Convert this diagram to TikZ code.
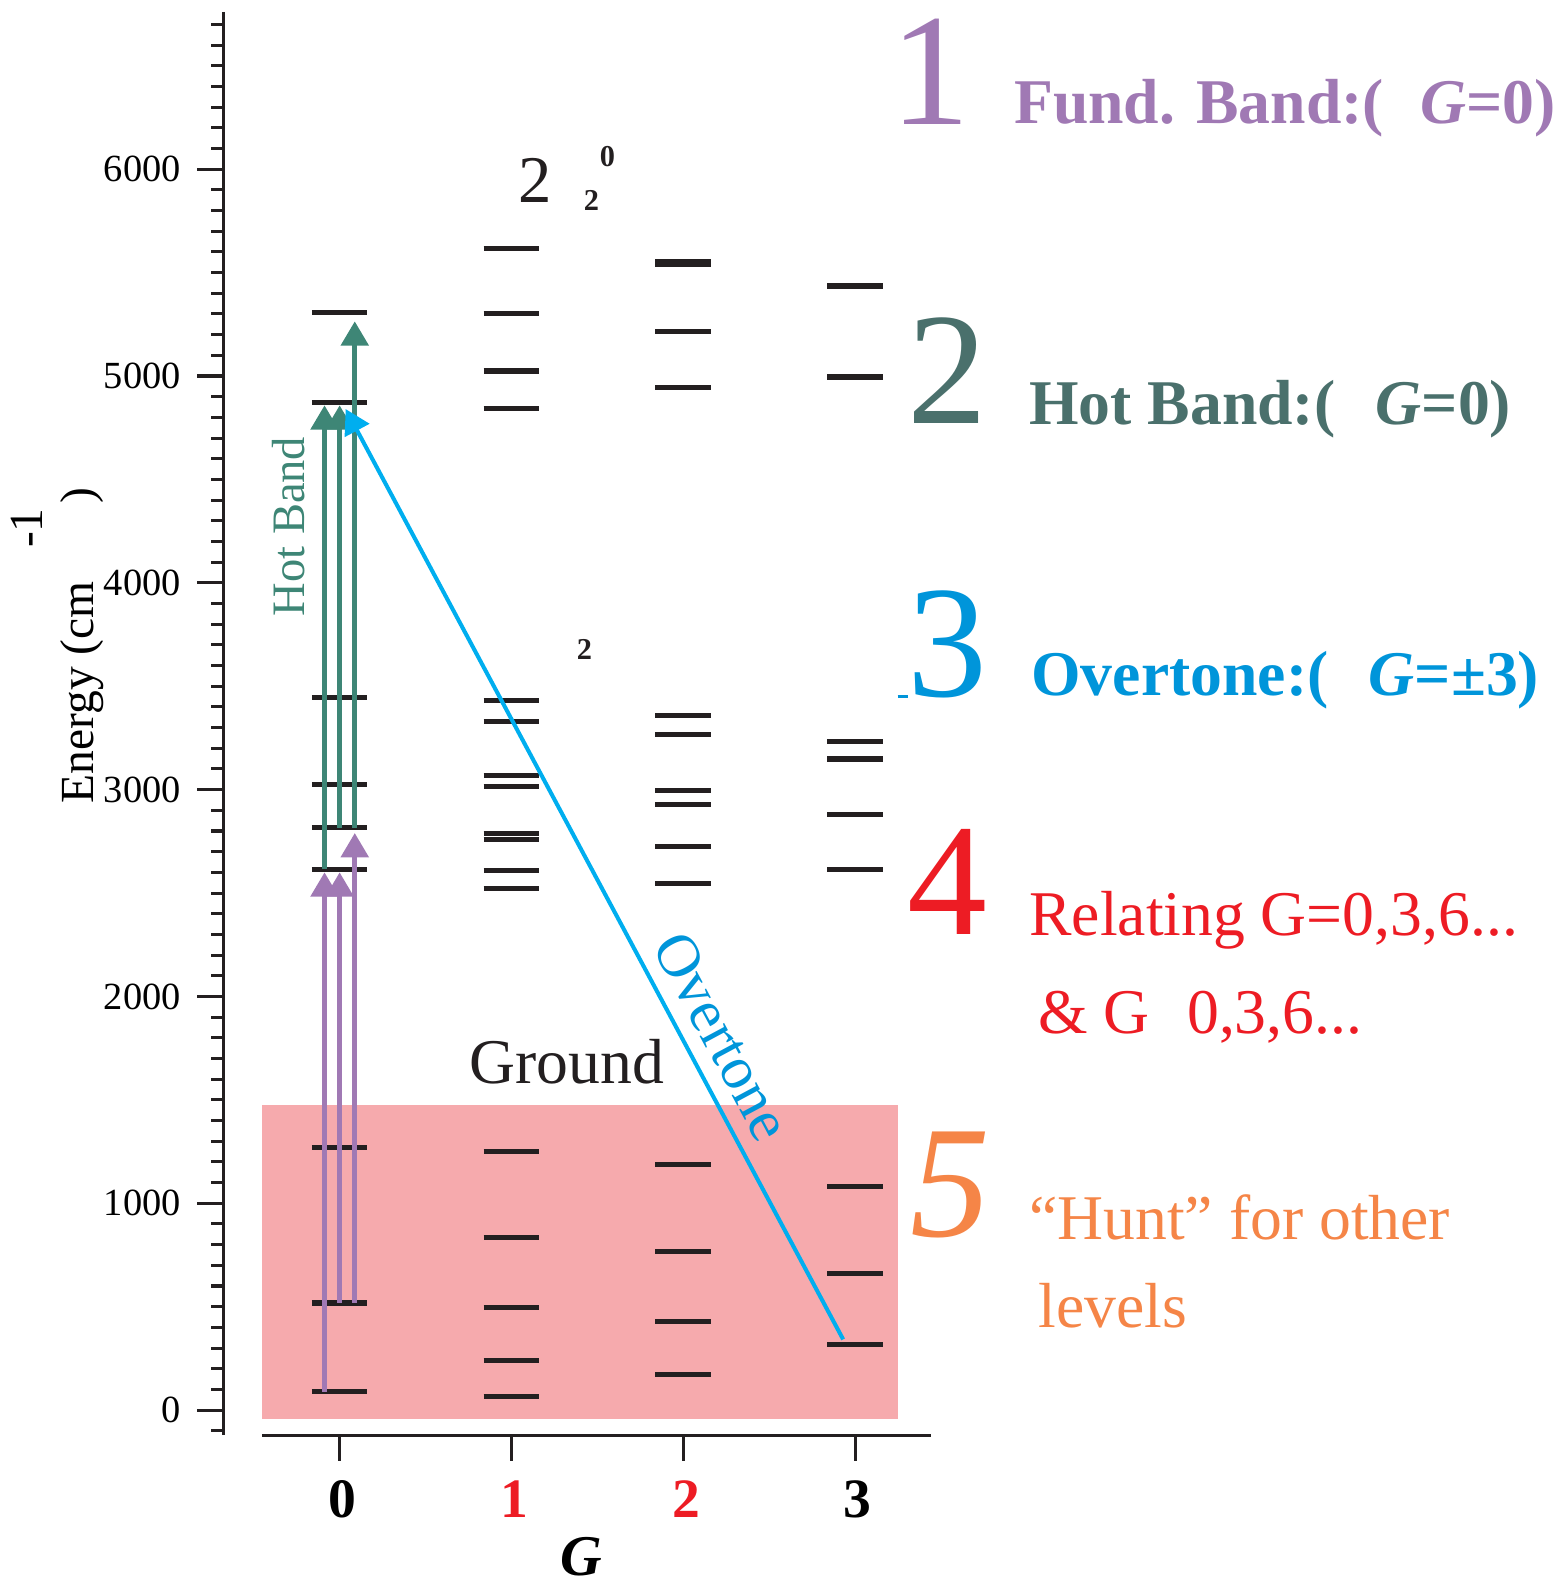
\documentclass[tikz,border=0pt]{standalone}
\usepackage{fontspec}
\setmainfont{Liberation Serif}
\usetikzlibrary{arrows.meta}
\definecolor{levelblack}{RGB}{35,31,32}
\definecolor{fundpurple}{RGB}{160,121,180}
\definecolor{hotteal}{RGB}{62,134,118}
\definecolor{hottext}{RGB}{74,112,108}
\definecolor{overblue}{RGB}{0,174,239}
\definecolor{overtext}{RGB}{0,149,218}
\definecolor{relred}{RGB}{237,28,36}
\definecolor{huntorange}{RGB}{245,133,71}
\definecolor{groundpink}{RGB}{246,170,173}

\begin{document}
\begin{tikzpicture}[x=170pt,y=0.2046pt,
    level/.style={draw=levelblack,line width=5pt},
    axisline/.style={draw=levelblack,line width=3.5pt},
    uparrow/.style={line width=4.5pt,-{Triangle[length=24pt,width=27pt]}},
    bignum/.style={font=\fontsize{158}{158}\selectfont,inner sep=0pt},
    sidetext/.style={font=\fontsize{63}{63}\selectfont,anchor=base west,inner sep=0pt}]
	\useasboundingbox (-1.9765,-845.6) rectangle (7.141,6818);
	% region searched for other levels
	\fill[groundpink] (-0.453,-44) rectangle (3.247,1476);
	% axes
	\draw[axisline] (-0.676,6760) -- (-0.676,-120);
	\draw[axisline] (-0.453,-122) -- (3.44,-122);
	\foreach \e in {-100,0,...,6700} \draw[axisline,line width=3pt] (-0.676,\e) -- (-0.7466,\e);
	\foreach \e in {0,1000,...,6000} {
		\draw[axisline,line width=3pt] (-0.676,\e) -- (-0.829,\e);
		\node[anchor=east,inner sep=0pt,font=\fontsize{38}{38}\selectfont] (tick\e) at (-0.9235,\e) {\e};
	}
	\foreach \g/\c in {0/black,1/relred,2/relred,3/black} {
		\draw[axisline,line width=3pt] (\g,-122) -- (\g,-244);
		\node[font=\fontsize{55}{55}\selectfont\bfseries,text=\c] (gnum\g) at ({\g+0.015},-430) {\g};
	}
	\node[font=\fontsize{57}{57}\selectfont\bfseries\itshape] (gaxis) at (1.406,-709) {G};
	\node[rotate=90,anchor=base west,inner sep=0pt,font=\fontsize{47}{47}\selectfont] (elabel) at (-1.435,2933) {Energy (cm\hspace{33pt}\raisebox{50pt}{-1}\hspace{5pt})};
	% energy levels for each G
	\foreach \g/\elist in {0/{5308,4873,3446,3025,2815,2615,1271,518,88},
		1/{5616,5303,5024,4844,3431,3328,3069,3016,2786,2760,2610,2522,1251,836,494,240,64},
		2/{5555,5540,5215,4946,3358,3265,2996,2928,2727,2546,1188,767,430,171},
		3/{5435,4995,3231,3148,2879,2615,1080,660,318}} {
		\foreach \e in \elist \draw[level] ({\g-0.162},\e) -- ({\g+0.162},\e);
	}
	% transitions
	\coordinate (h1a) at (-0.088,2615); \coordinate (h1b) at (-0.088,4858);
	\coordinate (h2a) at (0,2815); \coordinate (h2b) at (0,4858);
	\coordinate (h3a) at (0.088,2815); \coordinate (h3b) at (0.088,5264);
	\draw[uparrow,hotteal] (h1a) -- (h1b);
	\draw[uparrow,hotteal] (h2a) -- (h2b);
	\draw[uparrow,hotteal] (h3a) -- (h3b);
	\coordinate (f1a) at (-0.088,88); \coordinate (f1b) at (-0.088,2600);
	\coordinate (f2a) at (0,518); \coordinate (f2b) at (0,2600);
	\coordinate (f3a) at (0.088,518); \coordinate (f3b) at (0.088,2790);
	\draw[uparrow,fundpurple] (f1a) -- (f1b);
	\draw[uparrow,fundpurple] (f2a) -- (f2b);
	\draw[uparrow,fundpurple] (f3a) -- (f3b);
	\coordinate (o1a) at (2.93,342); \coordinate (o1b) at (0.035,4840);
	\draw[overblue,line width=4pt,-{Triangle[length=24pt,width=27pt]}] (o1a) -- (o1b);
	% labels in the plot
	\node[rotate=90,anchor=base west,inner sep=0pt,text=hotteal,font=\fontsize{46}{46}\selectfont] (hotlab) at (-0.206,3837) {Hot Band};
	\node[rotate=-61.8,text=overtext,font=\fontsize{60}{60}\selectfont] (ovlab) at (2.229,1808) {Overtone};
	\node[font=\fontsize{63}{63}\selectfont,text=levelblack] (ground) at (1.3235,1686) {Ground};
	\node[font=\fontsize{66}{66}\selectfont,text=levelblack] (twobig) at (1.135,5948) {2};
	\node[font=\fontsize{30}{30}\selectfont\bfseries,text=levelblack] (twosub) at (1.465,5850) {2};
	\node[font=\fontsize{30}{30}\selectfont\bfseries,text=levelblack] (twosup) at (1.559,6061) {0};
	\node[font=\fontsize{30}{30}\selectfont\bfseries,text=levelblack] (twolone) at (1.424,3680) {2};
	% numbered list on the right
	\node[bignum,text=fundpurple] (n1) at (3.435,6470) {1};
	\node[bignum,text=hottext] (n2) at (3.535,5024) {2};
	\node[bignum,text=overtext] (n3) at (3.535,3700) {3};
	\node[bignum,text=relred] (n4) at (3.535,2556) {4};
	\node[bignum,text=huntorange] (n5) at (3.555,1090) {\itshape 5};
	\draw[overtext,line width=3pt] (3.247,3451) -- (3.306,3451);
	\node[sidetext,text=fundpurple] (fundtxt) at (3.924,6222) {\bfseries Fund. Band:(\hspace{36pt}\textit{G}=0)};
	\node[sidetext,text=hottext] (hottxt) at (4.012,4765) {\bfseries Hot Band:(\hspace{40pt}\textit{G}=0)};
	\node[sidetext,text=overtext] (overtxt) at (4.024,3456) {\bfseries Overtone:(\hspace{40pt}\textit{G}=±3)};
	\node[sidetext,text=relred] (reltxt) at (4.012,2297) {Relating G=0,3,6...};
	\node[sidetext,text=relred] (reltxtb) at (4.065,1823) {\& G\hspace{37pt}0,3,6...};
	\node[sidetext,text=huntorange] (hunttxt) at (4.012,826) {“Hunt” for other};
	\node[sidetext,text=huntorange] (hunttxtb) at (4.065,401) {levels};
\end{tikzpicture}
\end{document}
